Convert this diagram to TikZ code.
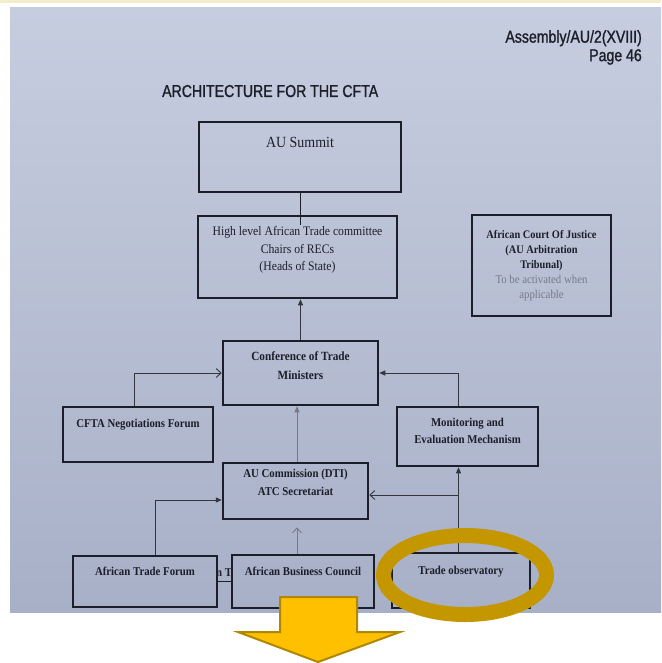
\documentclass[tikz,border=0pt]{standalone}
\usepackage{fontspec}
\setmainfont{Liberation Serif}[FakeStretch=0.9]
\newfontfamily\headfont{Liberation Sans}[FakeStretch=0.82, FakeBold=1.2]
\usetikzlibrary{arrows.meta,calc}
\definecolor{paper}{RGB}{198,205,223}
\definecolor{paperlow}{RGB}{168,176,200}
\definecolor{ink}{RGB}{28,31,42}
\definecolor{gold}{RGB}{196,150,0}
\definecolor{amber}{RGB}{255,192,0}
\definecolor{cream}{RGB}{244,236,204}
\definecolor{faded}{RGB}{118,123,138}

\begin{document}
\begin{tikzpicture}[x=1pt,y=-1pt,
	box/.style={draw=ink, line width=2.5pt, align=center, inner sep=2pt, text=ink,
		font=\fontsize{12}{17}\selectfont\bfseries},
	serifreg/.style={font=\fontsize{13}{17.5}\selectfont\mdseries},
	lift/.style={text depth=#1},
	tri/.style={draw=ink!90, line width=0.9pt, -{Triangle[length=6pt,width=5pt]}},
	barb/.style={draw=ink!90, line width=0.9pt, -{Straight Barb[length=5pt,width=9pt]}}]
	% Page
	\useasboundingbox (0,0) rectangle (661,663);
	\fill[white] (0,0) rectangle (661,663);
	\fill[cream] (0,0) rectangle (661,3);
	\shade[top color=paper, bottom color=paperlow] (10,8) rectangle (661,612);
	% Heading
	\node[anchor=north east, align=right, inner sep=0pt, text=ink,
		font=\headfont\fontsize{17.2}{18.5}\selectfont] (docref) at (642,30)
		{Assembly/AU/2(XVIII)\\Page 46};
	\node[anchor=base west, inner sep=0pt, text=ink,
		font=\headfont\fontsize{17.2}{20}\selectfont] (title) at (162,97)
		{ARCHITECTURE FOR THE CFTA};
	% Boxes
	\node[box, minimum width=202pt, minimum height=70pt, font=\fontsize{15.5}{17}\selectfont\mdseries, lift=30pt] (summit) at (300,157) {AU Summit};
	\node[box, serifreg, minimum width=199pt, minimum height=82pt, lift=16.5pt] (high) at (297.5,257)
		{High level African Trade committee\\Chairs of RECs\\(Heads of State)};
	\node[box, font=\fontsize{11.5}{15}\selectfont\bfseries, minimum width=139pt, minimum height=101pt] (court) at (541.5,265.5)
		{African Court Of Justice\\(AU Arbitration\\Tribunal)\\{\color{faded}\mdseries\fontsize{12}{15}\selectfont To be activated when}\\{\color{faded}\mdseries\fontsize{12}{15}\selectfont applicable}};
	\node[box, font=\fontsize{12.5}{19}\selectfont\bfseries, minimum width=155pt, minimum height=64pt, lift=14.5pt] (conf) at (300.5,373)
		{Conference of Trade\\Ministers};
	\node[box, minimum width=150pt, minimum height=55pt, lift=22.5pt] (cfta) at (138,434.5) {CFTA Negotiations Forum};
	\node[box, minimum width=141pt, minimum height=59pt, lift=10.5pt] (monitor) at (467.5,436.5)
		{Monitoring and\\Evaluation Mechanism};
	\node[box, font=\fontsize{12}{18}\selectfont\bfseries, minimum width=145pt, minimum height=56pt, lift=16.5pt] (aucom) at (295.5,491)
		{AU Commission (DTI)\\ATC Secretariat};
	\node[box, minimum width=144pt, minimum height=51pt, lift=20.5pt] (atf) at (145,581.5) {African Trade Forum};
	\node[box, minimum width=142pt, minimum height=53pt, lift=20.5pt] (abc) at (303,581.5) {African Business Council};
	\node[box, minimum width=138pt, minimum height=55pt, lift=19.5pt] (tobs) at (461,580.5) {Trade observatory};
	\node[inner sep=0pt, text=ink, font=\fontsize{12}{13}\selectfont\bfseries] (frag) at (224,573) {n T};
	% Links
	\draw[ink, line width=0.9pt] (summit.south) -- ($(summit.south |- high.north)+(0,10)$);
	\draw[tri] (conf.north) -- (conf.north |- high.south);
	\draw[barb] ([xshift=-4pt]cfta.north) |- (conf.west);
	\draw[tri] ([xshift=-9.5pt]monitor.north) |- (conf.east);
	\draw[tri, draw=ink!60] ([xshift=1.5pt]aucom.north) -- ([xshift=1.5pt]aucom.north |- conf.south);
	\draw[tri] ([xshift=-2.5pt]tobs.north) -- ([xshift=-2.5pt]tobs.north |- monitor.south);
	\coordinate (tap) at ($(tobs.north |- aucom.east)+(-2.5,4)$);
	\draw[barb] (tap) -- (tap -| aucom.east);
	\draw[tri] ([xshift=10pt]atf.north) |- ($(aucom.west)+(0,9)$);
	\draw[barb, draw=ink!60, shorten >=7pt] ([xshift=-6pt]abc.north) -- ([xshift=-6pt]abc.north |- aucom.south);
	\draw[ink, line width=0.9pt] (atf.east) -- (abc.west);
	% Highlight
	\draw[gold, line width=15pt] (465,575) ellipse [x radius=81.5, y radius=39.5];
	\filldraw[fill=amber, draw=gold!90!black, line width=2pt]
		(280,597) -- (357,597) -- (357,632) -- (400,632) -- (318,662) -- (238,632) -- (280,632) -- cycle;
\end{tikzpicture}
\end{document}
